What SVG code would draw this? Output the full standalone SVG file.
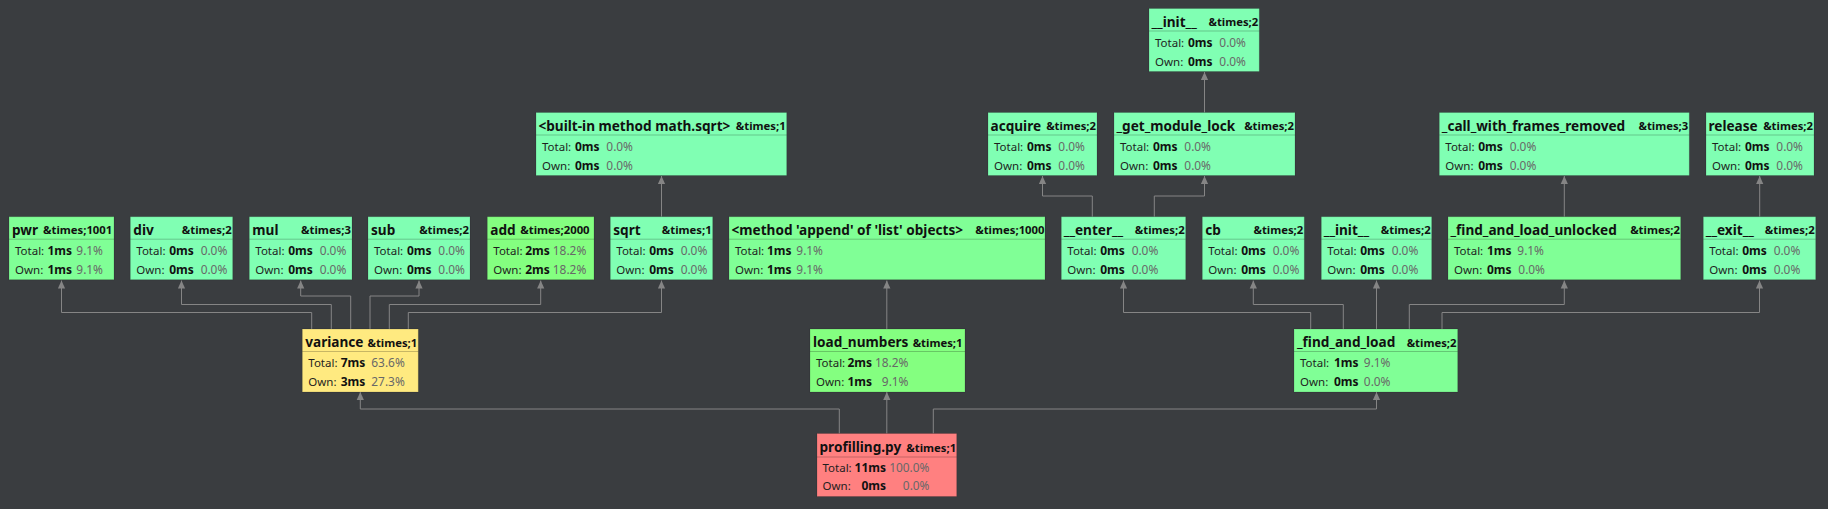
<svg xmlns="http://www.w3.org/2000/svg" width="1828" height="509" viewBox="0 0 1828 509">
<style>
.bg{stroke:#000;stroke-opacity:.14;stroke-width:1}
.sep{stroke:#000;stroke-opacity:.22;stroke-width:1}
.t{font-family:"Noto Sans",sans-serif;font-weight:bold;font-size:13.6px;fill:#111}
.x{font-family:"Noto Sans",sans-serif;font-weight:bold;font-size:11.3px;fill:#111;text-anchor:end}
.xs{text-anchor:start}
.l{font-family:"Noto Sans",sans-serif;font-size:11.5px;fill:#1e1e1e}
.v{font-family:"Noto Sans",sans-serif;font-size:12px;font-weight:bold;fill:#111;text-anchor:end}
.p{font-family:"Noto Sans",sans-serif;font-size:11.9px;fill:#686868;text-anchor:end}
.h0{fill:#80ffb3}.h9{fill:#80ff96}.h18{fill:#84ff80}.h63{fill:#ffea80}.h100{fill:#ff8080}
.edge{fill:none;stroke:#858585;stroke-width:1;marker-end:url(#arr)}
</style>
<defs>
<marker id="arr" viewBox="0 0 8 8" refX="8" refY="4" markerWidth="8" markerHeight="8" markerUnits="userSpaceOnUse" orient="auto">
<path d="M0,0.4 L8,4 L0,7.6 z" fill="#858585"/>
</marker>
</defs>
<rect width="1828" height="509" fill="#3a3d40"/>
<g id="edges">
<path class="edge" d="M311.7,329 V312.5 H61.5 V280.5"/>
<path class="edge" d="M331.3,329 V304.5 H181.5 V280.5"/>
<path class="edge" d="M350.7,329 V296 H300.7 V280.5"/>
<path class="edge" d="M370,329 V296 H419 V280.5"/>
<path class="edge" d="M389.3,329 V304.5 H540.7 V280.5"/>
<path class="edge" d="M408.3,329 V312.5 H661.5 V280.5"/>
<path class="edge" d="M661.5,216.7 V176"/>
<path class="edge" d="M886.8,329 V280.5"/>
<path class="edge" d="M1092.3,216.7 V196 H1042.5 V176"/>
<path class="edge" d="M1154.3,216.7 V196 H1204.5 V176"/>
<path class="edge" d="M1204.5,112.5 V72"/>
<path class="edge" d="M1310.7,329 V312.5 H1123.5 V280.5"/>
<path class="edge" d="M1343.3,329 V304.5 H1253.3 V280.5"/>
<path class="edge" d="M1376.5,329 V280.5"/>
<path class="edge" d="M1409.3,329 V304.5 H1564.3 V280.5"/>
<path class="edge" d="M1442,329 V312.5 H1759.5 V280.5"/>
<path class="edge" d="M1564.3,216.7 V176"/>
<path class="edge" d="M1759.7,216.7 V176"/>
<path class="edge" d="M839.3,433.5 V409 H360.3 V392"/>
<path class="edge" d="M886.8,433.5 V392"/>
<path class="edge" d="M933.3,433.5 V409 H1376.5 V392"/>
</g>

<g id="n-init-top" transform="translate(1149,8.5)">
<rect class="bg h0" width="110.3" height="63"/><line class="sep" x1="0" y1="22.5" x2="110.3" y2="22.5"/>
<text class="t" x="2.5" y="18.3">__init__</text><text class="x" x="109.3" y="17.8">&amp;times;2</text>
<text class="l" x="6" y="38">Total:</text><text class="v" x="63.5" y="38">0ms</text><text class="p" x="97" y="38">0.0%</text>
<text class="l" x="6" y="57">Own:</text><text class="v" x="63.5" y="57">0ms</text><text class="p" x="97" y="57">0.0%</text>
</g>

<g id="n-builtin-sqrt" transform="translate(536,112.5)">
<rect class="bg h0" width="250.7" height="63"/><line class="sep" x1="0" y1="22.5" x2="250.7" y2="22.5"/>
<text class="t" x="2.5" y="18.3">&lt;built-in method math.sqrt&gt;</text><text class="x" x="249.7" y="17.8">&amp;times;1</text>
<text class="l" x="6" y="38">Total:</text><text class="v" x="63.5" y="38">0ms</text><text class="p" x="97" y="38">0.0%</text>
<text class="l" x="6" y="57">Own:</text><text class="v" x="63.5" y="57">0ms</text><text class="p" x="97" y="57">0.0%</text>
</g>

<g id="n-acquire" transform="translate(988,112.5)">
<rect class="bg h0" width="109" height="63"/><line class="sep" x1="0" y1="22.5" x2="109" y2="22.5"/>
<text class="t" x="2.5" y="18.3">acquire</text><text class="x" x="108" y="17.8">&amp;times;2</text>
<text class="l" x="6" y="38">Total:</text><text class="v" x="63.5" y="38">0ms</text><text class="p" x="97" y="38">0.0%</text>
<text class="l" x="6" y="57">Own:</text><text class="v" x="63.5" y="57">0ms</text><text class="p" x="97" y="57">0.0%</text>
</g>

<g id="n-get-module-lock" transform="translate(1114,112.5)">
<rect class="bg h0" width="181" height="63"/><line class="sep" x1="0" y1="22.5" x2="181" y2="22.5"/>
<text class="t" x="2.5" y="18.3">_get_module_lock</text><text class="x" x="180" y="17.8">&amp;times;2</text>
<text class="l" x="6" y="38">Total:</text><text class="v" x="63.5" y="38">0ms</text><text class="p" x="97" y="38">0.0%</text>
<text class="l" x="6" y="57">Own:</text><text class="v" x="63.5" y="57">0ms</text><text class="p" x="97" y="57">0.0%</text>
</g>

<g id="n-call-with-frames-removed" transform="translate(1439.3,112.5)">
<rect class="bg h0" width="250" height="63"/><line class="sep" x1="0" y1="22.5" x2="250" y2="22.5"/>
<text class="t" x="2.5" y="18.3">_call_with_frames_removed</text><text class="x" x="249" y="17.8">&amp;times;3</text>
<text class="l" x="6" y="38">Total:</text><text class="v" x="63.5" y="38">0ms</text><text class="p" x="97" y="38">0.0%</text>
<text class="l" x="6" y="57">Own:</text><text class="v" x="63.5" y="57">0ms</text><text class="p" x="97" y="57">0.0%</text>
</g>

<g id="n-release" transform="translate(1706,112.5)">
<rect class="bg h0" width="108" height="63"/><line class="sep" x1="0" y1="22.5" x2="108" y2="22.5"/>
<text class="t" x="2.5" y="18.3">release</text><text class="x" x="107" y="17.8">&amp;times;2</text>
<text class="l" x="6" y="38">Total:</text><text class="v" x="63.5" y="38">0ms</text><text class="p" x="97" y="38">0.0%</text>
<text class="l" x="6" y="57">Own:</text><text class="v" x="63.5" y="57">0ms</text><text class="p" x="97" y="57">0.0%</text>
</g>

<g id="n-pwr" transform="translate(9,216.7)">
<rect class="bg h9" width="105" height="63"/><line class="sep" x1="0" y1="22.5" x2="105" y2="22.5"/>
<text class="t" x="3" y="18.3">pwr</text><text class="x xs" x="34" y="17.8">&amp;times;1001</text>
<text class="l" x="6" y="38">Total:</text><text class="v" x="63" y="38">1ms</text><text class="p" x="94" y="38">9.1%</text>
<text class="l" x="6" y="57">Own:</text><text class="v" x="63" y="57">1ms</text><text class="p" x="94" y="57">9.1%</text>
</g>

<g id="n-div" transform="translate(130.3,216.7)">
<rect class="bg h0" width="102.4" height="63"/><line class="sep" x1="0" y1="22.5" x2="102.4" y2="22.5"/>
<text class="t" x="3" y="18.3">div</text><text class="x" x="101.4" y="17.8">&amp;times;2</text>
<text class="l" x="6" y="38">Total:</text><text class="v" x="63.5" y="38">0ms</text><text class="p" x="97" y="38">0.0%</text>
<text class="l" x="6" y="57">Own:</text><text class="v" x="63.5" y="57">0ms</text><text class="p" x="97" y="57">0.0%</text>
</g>

<g id="n-mul" transform="translate(249.3,216.7)">
<rect class="bg h0" width="102.7" height="63"/><line class="sep" x1="0" y1="22.5" x2="102.7" y2="22.5"/>
<text class="t" x="3" y="18.3">mul</text><text class="x" x="101.7" y="17.8">&amp;times;3</text>
<text class="l" x="6" y="38">Total:</text><text class="v" x="63.5" y="38">0ms</text><text class="p" x="97" y="38">0.0%</text>
<text class="l" x="6" y="57">Own:</text><text class="v" x="63.5" y="57">0ms</text><text class="p" x="97" y="57">0.0%</text>
</g>

<g id="n-sub" transform="translate(368,216.7)">
<rect class="bg h0" width="102" height="63"/><line class="sep" x1="0" y1="22.5" x2="102" y2="22.5"/>
<text class="t" x="3" y="18.3">sub</text><text class="x" x="101" y="17.8">&amp;times;2</text>
<text class="l" x="6" y="38">Total:</text><text class="v" x="63.5" y="38">0ms</text><text class="p" x="97" y="38">0.0%</text>
<text class="l" x="6" y="57">Own:</text><text class="v" x="63.5" y="57">0ms</text><text class="p" x="97" y="57">0.0%</text>
</g>

<g id="n-add" transform="translate(487.3,216.7)">
<rect class="bg h18" width="106.7" height="63"/><line class="sep" x1="0" y1="22.5" x2="106.7" y2="22.5"/>
<text class="t" x="3" y="18.3">add</text><text class="x xs" x="33" y="17.8">&amp;times;2000</text>
<text class="l" x="6" y="38">Total:</text><text class="v" x="62.5" y="38">2ms</text><text class="p" x="99" y="38">18.2%</text>
<text class="l" x="6" y="57">Own:</text><text class="v" x="62.5" y="57">2ms</text><text class="p" x="99" y="57">18.2%</text>
</g>

<g id="n-sqrt" transform="translate(610.3,216.7)">
<rect class="bg h0" width="102.4" height="63"/><line class="sep" x1="0" y1="22.5" x2="102.4" y2="22.5"/>
<text class="t" x="3" y="18.3">sqrt</text><text class="x" x="101.4" y="17.8">&amp;times;1</text>
<text class="l" x="6" y="38">Total:</text><text class="v" x="63.5" y="38">0ms</text><text class="p" x="97" y="38">0.0%</text>
<text class="l" x="6" y="57">Own:</text><text class="v" x="63.5" y="57">0ms</text><text class="p" x="97" y="57">0.0%</text>
</g>

<g id="n-append" transform="translate(729,216.7)">
<rect class="bg h9" width="316" height="63"/><line class="sep" x1="0" y1="22.5" x2="316" y2="22.5"/>
<text class="t" x="2.5" y="18.3">&lt;method 'append' of 'list' objects&gt;</text><text class="x" x="315.5" y="17.8">&amp;times;1000</text>
<text class="l" x="6" y="38">Total:</text><text class="v" x="62.5" y="38">1ms</text><text class="p" x="94" y="38">9.1%</text>
<text class="l" x="6" y="57">Own:</text><text class="v" x="62.5" y="57">1ms</text><text class="p" x="94" y="57">9.1%</text>
</g>

<g id="n-enter" transform="translate(1061.3,216.7)">
<rect class="bg h0" width="124.4" height="63"/><line class="sep" x1="0" y1="22.5" x2="124.4" y2="22.5"/>
<text class="t" x="2.5" y="18.3">__enter__</text><text class="x" x="123.4" y="17.8">&amp;times;2</text>
<text class="l" x="6" y="38">Total:</text><text class="v" x="63.5" y="38">0ms</text><text class="p" x="97" y="38">0.0%</text>
<text class="l" x="6" y="57">Own:</text><text class="v" x="63.5" y="57">0ms</text><text class="p" x="97" y="57">0.0%</text>
</g>

<g id="n-cb" transform="translate(1202.3,216.7)">
<rect class="bg h0" width="102" height="63"/><line class="sep" x1="0" y1="22.5" x2="102" y2="22.5"/>
<text class="t" x="3" y="18.3">cb</text><text class="x" x="101" y="17.8">&amp;times;2</text>
<text class="l" x="6" y="38">Total:</text><text class="v" x="63.5" y="38">0ms</text><text class="p" x="97" y="38">0.0%</text>
<text class="l" x="6" y="57">Own:</text><text class="v" x="63.5" y="57">0ms</text><text class="p" x="97" y="57">0.0%</text>
</g>

<g id="n-init" transform="translate(1321.3,216.7)">
<rect class="bg h0" width="110.4" height="63"/><line class="sep" x1="0" y1="22.5" x2="110.4" y2="22.5"/>
<text class="t" x="2.5" y="18.3">__init__</text><text class="x" x="109.4" y="17.8">&amp;times;2</text>
<text class="l" x="6" y="38">Total:</text><text class="v" x="63.5" y="38">0ms</text><text class="p" x="97" y="38">0.0%</text>
<text class="l" x="6" y="57">Own:</text><text class="v" x="63.5" y="57">0ms</text><text class="p" x="97" y="57">0.0%</text>
</g>

<g id="n-find-and-load-unlocked" transform="translate(1448,216.7)">
<rect class="bg h9" width="232.7" height="63"/><line class="sep" x1="0" y1="22.5" x2="232.7" y2="22.5"/>
<text class="t" x="2.5" y="18.3">_find_and_load_unlocked</text><text class="x" x="232" y="17.8">&amp;times;2</text>
<text class="l" x="6" y="38">Total:</text><text class="v" x="63.5" y="38">1ms</text><text class="p" x="96" y="38">9.1%</text>
<text class="l" x="6" y="57">Own:</text><text class="v" x="63.5" y="57">0ms</text><text class="p" x="97" y="57">0.0%</text>
</g>

<g id="n-exit" transform="translate(1703.3,216.7)">
<rect class="bg h0" width="112.4" height="63"/><line class="sep" x1="0" y1="22.5" x2="112.4" y2="22.5"/>
<text class="t" x="2.5" y="18.3">__exit__</text><text class="x" x="111.4" y="17.8">&amp;times;2</text>
<text class="l" x="6" y="38">Total:</text><text class="v" x="63.5" y="38">0ms</text><text class="p" x="97" y="38">0.0%</text>
<text class="l" x="6" y="57">Own:</text><text class="v" x="63.5" y="57">0ms</text><text class="p" x="97" y="57">0.0%</text>
</g>

<g id="n-variance" transform="translate(302.3,329)">
<rect class="bg h63" width="116" height="63"/><line class="sep" x1="0" y1="22.5" x2="116" y2="22.5"/>
<text class="t" x="3" y="18.3">variance</text><text class="x" x="115" y="17.8">&amp;times;1</text>
<text class="l" x="6" y="38">Total:</text><text class="v" x="63" y="38">7ms</text><text class="p" x="102.5" y="38">63.6%</text>
<text class="l" x="6" y="57">Own:</text><text class="v" x="63" y="57">3ms</text><text class="p" x="102.5" y="57">27.3%</text>
</g>

<g id="n-load-numbers" transform="translate(810,329)">
<rect class="bg h18" width="155" height="63"/><line class="sep" x1="0" y1="22.5" x2="155" y2="22.5"/>
<text class="t" x="3" y="18.3">load_numbers</text><text class="x" x="152.5" y="17.8">&amp;times;1</text>
<text class="l" x="6" y="38">Total:</text><text class="v" x="62" y="38">2ms</text><text class="p" x="98.5" y="38">18.2%</text>
<text class="l" x="6" y="57">Own:</text><text class="v" x="62" y="57">1ms</text><text class="p" x="98.5" y="57">9.1%</text>
</g>

<g id="n-find-and-load" transform="translate(1294,329)">
<rect class="bg h9" width="163.7" height="63"/><line class="sep" x1="0" y1="22.5" x2="163.7" y2="22.5"/>
<text class="t" x="3" y="18.3">_find_and_load</text><text class="x" x="162.5" y="17.8">&amp;times;2</text>
<text class="l" x="6" y="38">Total:</text><text class="v" x="64.5" y="38">1ms</text><text class="p" x="96.5" y="38">9.1%</text>
<text class="l" x="6" y="57">Own:</text><text class="v" x="64.5" y="57">0ms</text><text class="p" x="96.5" y="57">0.0%</text>
</g>

<g id="n-profilling" transform="translate(817,433.5)">
<rect class="bg h100" width="139.7" height="63"/><line class="sep" x1="0" y1="23.5" x2="139.7" y2="23.5"/>
<text class="t" x="2.5" y="18.5">profilling.py</text><text class="x" x="139.2" y="18">&amp;times;1</text>
<text class="l" x="5.5" y="38.5">Total:</text><text class="v" x="69" y="38.5">11ms</text><text class="p" x="112.5" y="38.5">100.0%</text>
<text class="l" x="5.5" y="56.5">Own:</text><text class="v" x="69" y="56.5">0ms</text><text class="p" x="112.5" y="56.5">0.0%</text>
</g>
</svg>
